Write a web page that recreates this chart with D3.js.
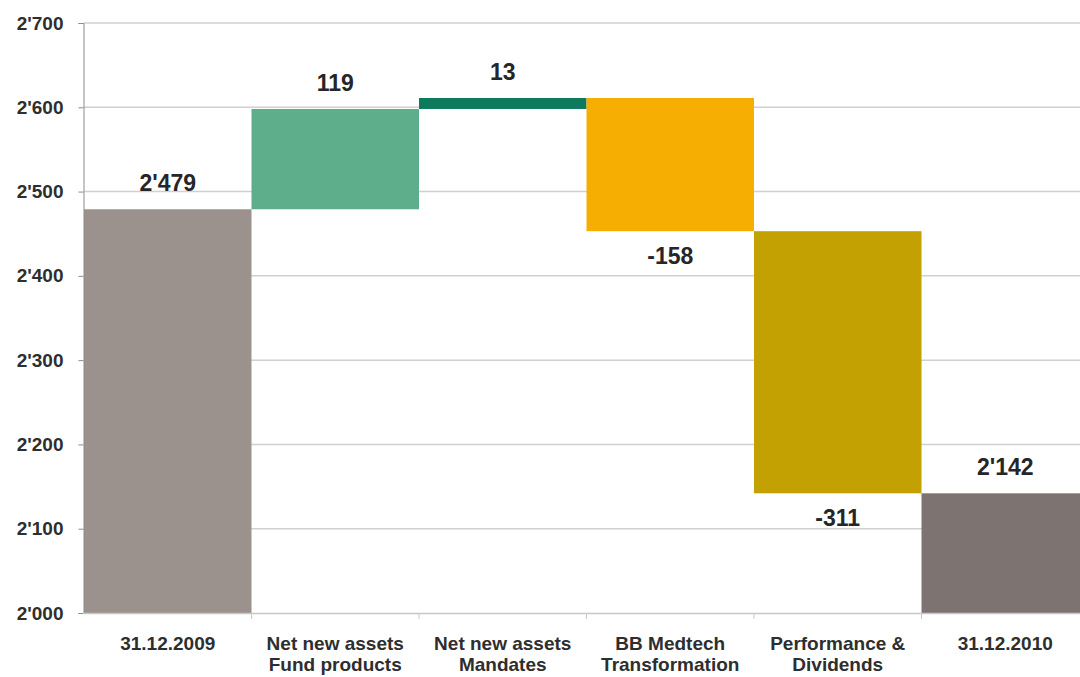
<!DOCTYPE html>
<html><head><meta charset="utf-8">
<script src="https://cdn.jsdelivr.net/npm/d3@7/dist/d3.min.js"></script>
<style>body{margin:0;background:#fff;}svg{display:block;font-family:"Liberation Sans",Arial,sans-serif;}</style>
</head><body><svg id="c" width="1080" height="677"></svg>
<script>
const categories = [["31.12.2009"],["Net new assets","Fund products"],["Net new assets","Mandates"],["BB Medtech","Transformation"],["Performance &","Dividends"],["31.12.2010"]];
const kinds = ["total","delta","delta","delta","delta","total"];
const values = [2479, 119, 13, -158, -311, 2142];
const labels = ["2'479","119","13","-158","-311","2'142"];
const colors = ["#9b918d","#5fae8b","#0d7a5e","#f7ae02","#c3a102","#7d7371"];
const yTicks = [2000,2100,2200,2300,2400,2500,2600,2700];

const svg = d3.select("#c");
const x = d3.scaleBand().domain(d3.range(categories.length)).range([84,1089]).padding(0);
const y = d3.scaleLinear().domain([2000,2700]).range([613,23]);
const fmt = v => { const s = String(v); return s.length>3 ? s.slice(0,s.length-3)+"'"+s.slice(-3) : s; };

let run = 0;
const segs = values.map((v,i)=>{
  let lo, hi;
  if (kinds[i]==="total"){ lo=2000; hi=v; run=v; }
  else { const a=run, b=run+v; lo=Math.min(a,b); hi=Math.max(a,b); run=b; }
  return {i, lo, hi, v};
});

svg.append("g").selectAll("line").data(yTicks.slice(1)).join("line")
  .attr("x1",84).attr("x2",1080).attr("y1",d=>y(d)).attr("y2",d=>y(d))
  .attr("stroke","#d0d0d0").attr("stroke-width",1.5);

svg.append("g").selectAll("rect").data(segs).join("rect")
  .attr("x",d=>x(d.i)).attr("width",x.bandwidth())
  .attr("y",d=>y(d.hi)).attr("height",d=>y(d.lo)-y(d.hi))
  .attr("fill",(d)=>colors[d.i]);

const ya = svg.append("g").attr("transform","translate(83.5,0)")
  .call(d3.axisLeft(y).tickValues(yTicks).tickFormat(fmt).tickSize(5).tickPadding(15));
ya.select(".domain").attr("stroke","#8c8c8c");
ya.selectAll(".tick line").attr("stroke","#8c8c8c");
ya.selectAll("text").attr("font-size",19).attr("font-weight","bold").attr("fill","#2e2e2e");

svg.append("line").attr("x1",83).attr("x2",1080).attr("y1",613.5).attr("y2",613.5).attr("stroke","#c8c8c8").attr("stroke-width",1.5);
svg.append("g").selectAll("line").data(d3.range(1,categories.length)).join("line")
  .attr("x1",d=>x(d)).attr("x2",d=>x(d)).attr("y1",613).attr("y2",619).attr("stroke","#c8c8c8");

const xl = svg.append("g").selectAll("text").data(categories).join("text")
  .attr("x",(d,i)=>x(i)+x.bandwidth()/2).attr("y",650)
  .attr("text-anchor","middle").attr("font-size",19).attr("font-weight","bold").attr("fill","#2e2e2e");
xl.each(function(d){
  d3.select(this).selectAll("tspan").data(d).join("tspan")
    .attr("x",d3.select(this).attr("x")).attr("dy",(t,j)=>j?21:0).text(t=>t);
});

svg.append("g").selectAll("text").data(segs).join("text")
  .attr("x",d=>x(d.i)+x.bandwidth()/2)
  .attr("y",d=> d.v<0 ? y(d.lo)+33 : y(d.hi)-18)
  .attr("text-anchor","middle").attr("font-size",23).attr("font-weight","bold").attr("fill","#262626")
  .text((d)=>labels[d.i]);
</script></body></html>
